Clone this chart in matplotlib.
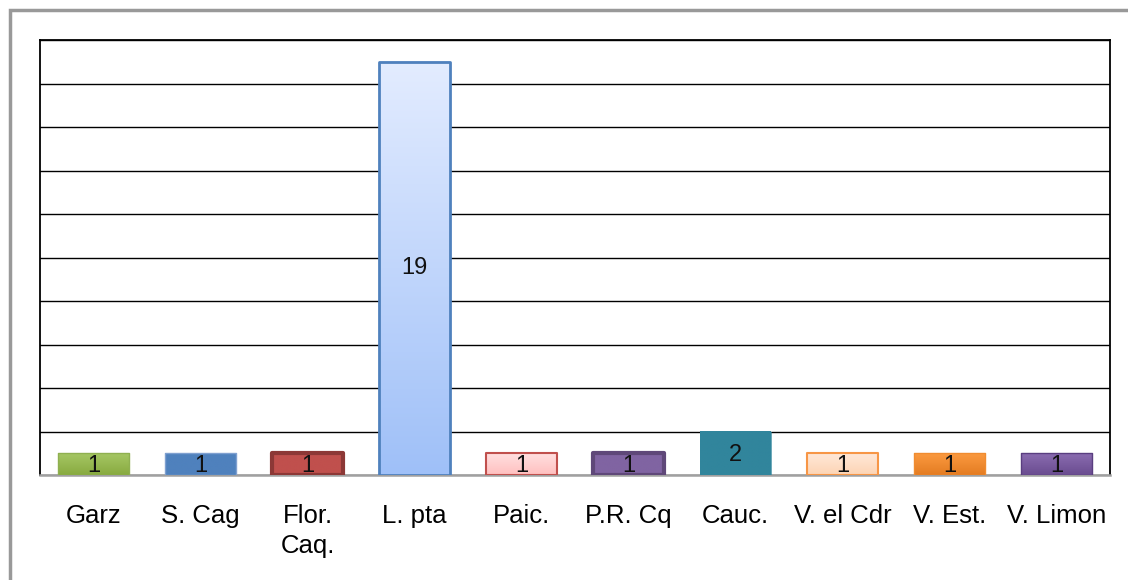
import matplotlib
matplotlib.use("Agg")
import matplotlib.pyplot as plt
import numpy as np
from matplotlib.colors import to_rgb
from matplotlib.patches import Rectangle

categories = ["Garz", "S. Cag", "Flor.\nCaq.", "L. pta", "Paic.", "P.R. Cq",
              "Cauc.", "V. el Cdr", "V. Est.", "V. Limon"]
values = [1, 1, 1, 19, 1, 1, 2, 1, 1, 1]

top_colors = ["#a6c764", "#4f81bd", "#c0504d", "#e3ecff", "#ffe0e0", "#8064a2",
              "#31859c", "#ffe8d8", "#fb9a40", "#8a6cb0"]
bot_colors = ["#88aa40", "#4f81bd", "#c0504d", "#9fc0f8", "#ffbfbf", "#8064a2",
              "#31859c", "#fdd4b4", "#e47c22", "#6a4c90"]
edge_colors = ["#8fb050", "#7fa0d0", "#8c3836", "#4f81bd", "#c0504d", "#5f4879",
               "#31859c", "#f79646", "#f08c30", "#5a3e80"]
edge_widths = [1.0, 1.0, 3.0, 2.0, 1.5, 3.0, 0.5, 1.5, 1.0, 1.0]

fig = plt.figure(figsize=(11.28, 5.80), dpi=100)
fig.patches.append(Rectangle((10 / 1128, -0.1), 1.2, 1 - 10 / 580 + 0.1,
                             transform=fig.transFigure, fill=False,
                             edgecolor="#999999", linewidth=2.5))
ax = fig.add_axes([40 / 1128, 1 - 475 / 580, 1070 / 1128, 435 / 580])

x = np.arange(len(categories))
width = 0.66
bars = ax.bar(x, values, width=width, color="none", zorder=3)
for i, b in enumerate(bars):
    x0, y0 = b.get_x(), 0
    x1, y1 = x0 + width, values[i]
    c1 = np.array(to_rgb(top_colors[i]))
    c2 = np.array(to_rgb(bot_colors[i]))
    t = np.linspace(0, 1, 100)[:, None]
    grad = (c1 * (1 - t) + c2 * t)[:, None, :]
    ax.imshow(grad, extent=[x0, x1, y0, y1], aspect="auto", zorder=3,
              interpolation="bilinear", origin="upper")
    lw = edge_widths[i]
    ax.add_patch(Rectangle((x0, y0), width, values[i], fill=False,
                           edgecolor=edge_colors[i], linewidth=lw, zorder=4,
                           joinstyle="round"))
    ax.text(x[i], values[i] / 2 - (0.08 if values[i] < 5 else 0), str(values[i]),
            ha="center", va="center", fontsize=17, color="#111111", zorder=5,
            family="Liberation Sans")

ax.set_xlim(-0.5, len(categories) - 0.5)
ax.set_ylim(0, 20)
ax.set_yticks(np.arange(0, 21, 2))
ax.yaxis.grid(True, color="black", linewidth=1)
ax.set_axisbelow(True)
ax.tick_params(axis="y", length=0, labelleft=False)
ax.set_xticks(x)
ax.set_xticklabels(categories, fontsize=18.5, family="Liberation Sans",
                   linespacing=1.3)
ax.tick_params(axis="x", length=0, pad=21)
for s in ["left", "top", "right"]:
    ax.spines[s].set_color("black")
    ax.spines[s].set_linewidth(1.3)
ax.spines["bottom"].set_color("#a0a0a0")
ax.spines["bottom"].set_linewidth(1.8)
for lbl in ax.get_xticklabels():
    lbl.set_va("top")

fig.savefig("out.png", dpi=100)
